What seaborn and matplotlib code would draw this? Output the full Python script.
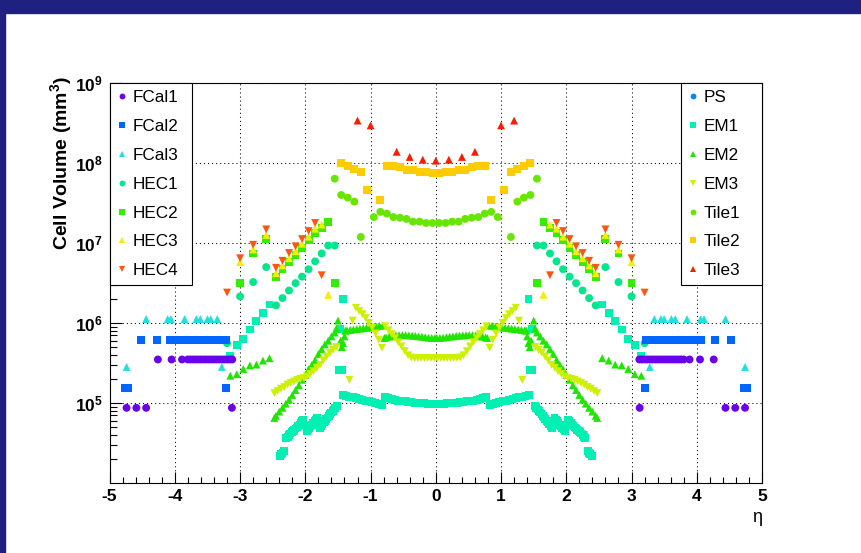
import numpy as np
import pandas as pd
import matplotlib
matplotlib.use('Agg')
import matplotlib.pyplot as plt
import matplotlib.ticker as mt
from matplotlib.lines import Line2D
from matplotlib.patches import Rectangle
import seaborn as sns

#%% data: cell volume (mm^3) vs eta, positive-eta half (detector is symmetric in eta)

fcal1_eta = [3.12, 3.16, 3.20, 3.24, 3.28, 3.32, 3.36, 3.40, 3.44, 3.48, 3.52, 3.56,
             3.60, 3.64, 3.68, 3.72, 3.76, 3.80, 3.89, 4.05, 4.26,
             3.125, 4.44, 4.59, 4.74]
fcal1_vol = [3.5e5]*21 + [8.7e4]*4

fcal2_eta = [3.22, 3.26, 3.30, 3.34, 3.38, 3.42, 3.46, 3.50, 3.54, 3.58, 3.62, 3.66,
             3.70, 3.74, 3.80, 3.85, 3.90, 3.96, 4.02, 4.07, 4.28, 4.52,
             3.21, 4.72, 4.77]
fcal2_vol = [6.2e5]*22 + [1.55e5]*3

fcal3_eta = [3.35, 3.45, 3.50, 3.61, 3.67, 3.85, 4.06, 4.11, 4.44, 3.28, 4.74]
fcal3_vol = [1.12e6]*9 + [2.82e5]*2

hec1_eta = [1.55, 1.65, 1.75, 1.85, 1.95, 2.05, 2.15, 2.25, 2.35, 2.45, 2.6, 2.8, 3.0, 3.2]
hec1_vol = [9.3e6, 9.3e6, 7.4e6, 5.9e6, 4.7e6, 3.8e6, 3.15e6, 2.55e6, 2.05e6, 1.66e6,
            5.0e6, 3.25e6, 2.15e6, 5.6e5]

hec2_eta = [1.55, 1.65, 1.75, 1.85, 1.95, 2.05, 2.15, 2.25, 2.35, 2.45, 2.6, 2.8, 3.0]
hec2_vol = [3.15e6, 1.81e7, 1.55e7, 1.33e7, 1.10e7, 8.7e6, 7.1e6, 5.75e6, 4.7e6, 3.75e6,
            1.12e7, 7.4e6, 3.15e6]

hec3_eta = [1.65, 1.75, 1.85, 1.95, 2.05, 2.15, 2.25, 2.35, 2.45, 2.6, 2.8, 3.0]
hec3_vol = [2.25e6, 1.70e7, 1.51e7, 1.20e7, 9.8e6, 7.9e6, 6.45e6, 5.25e6, 4.2e6,
            1.26e7, 8.3e6, 5.75e6]

hec4_eta = [1.75, 1.85, 1.95, 2.05, 2.15, 2.25, 2.35, 2.45, 2.6, 2.8, 3.0, 3.2]
hec4_vol = [3.95e6, 1.78e7, 1.41e7, 1.12e7, 9.1e6, 7.5e6, 6.0e6, 4.9e6,
            1.48e7, 9.5e6, 6.45e6, 2.4e6]

ps_eta = []
ps_vol = []

em1_eta = [0.025, 0.075, 0.125, 0.175, 0.225, 0.275, 0.325, 0.375, 0.425, 0.475,
           0.525, 0.575, 0.625, 0.675, 0.725, 0.775,
           0.825, 0.875, 0.925, 0.975, 1.025, 1.075, 1.125, 1.175, 1.225, 1.275,
           1.325, 1.375, 1.425,
           1.42, 1.47, 1.44, 1.48,
           1.52, 1.54, 1.56, 1.58, 1.60, 1.62, 1.64, 1.66, 1.68, 1.70, 1.72, 1.74, 1.76, 1.78,
           1.82, 1.84, 1.86, 1.88, 1.90, 1.92, 1.94, 1.96, 1.98,
           2.03, 2.05, 2.07, 2.09, 2.11, 2.13, 2.15, 2.17, 2.19, 2.21, 2.23, 2.25, 2.27, 2.29,
           2.33, 2.35, 2.37, 2.39,
           2.55, 2.65, 2.75, 2.85, 2.95, 3.05, 3.15]
em1_vol = [9.8e4, 9.8e4, 9.8e4, 9.9e4, 1.0e5, 1.0e5, 1.01e5, 1.02e5, 1.035e5, 1.047e5,
           1.06e5, 1.07e5, 1.095e5, 1.12e5, 1.15e5, 1.175e5,
           9.45e4, 9.65e4, 9.9e4, 1.02e5, 1.047e5, 1.07e5, 1.095e5, 1.12e5, 1.15e5, 1.175e5,
           1.2e5, 1.23e5, 1.245e5,
           2.0e6, 8.5e5, 2.57e5, 2.57e5,
           9.1e4, 8.7e4, 8.3e4, 7.9e4, 7.6e4, 7.2e4, 6.9e4, 6.6e4, 6.3e4, 6.0e4, 5.7e4, 5.4e4,
           5.2e4, 4.9e4,
           6.45e4, 6.15e4, 5.9e4, 5.6e4, 5.35e4, 5.1e4, 4.9e4, 4.7e4, 4.45e4,
           6.15e4, 5.9e4, 5.6e4, 5.35e4, 5.1e4, 4.95e4, 4.8e4, 4.6e4, 4.45e4, 4.3e4, 4.15e4,
           4.0e4, 3.8e4, 3.65e4,
           2.5e4, 2.4e4, 2.3e4, 2.2e4,
           1.70e6, 1.33e6, 1.07e6, 8.3e5, 6.3e5, 5.25e5, 3.9e5]

em2_eta = [0.0125, 0.0625, 0.1125, 0.1625, 0.2125, 0.2625, 0.3125, 0.3625, 0.4125, 0.4625,
           0.5125, 0.5625, 0.6125, 0.6625, 0.7125, 0.7625, 0.7875,
           0.8125, 0.8625, 0.9125, 0.9625, 1.0125, 1.0625, 1.1125, 1.1625, 1.2125, 1.2625,
           1.3125, 1.3625, 1.3875,
           1.40, 1.42, 1.44, 1.46,
           1.50, 1.525, 1.55, 1.60, 1.65, 1.70, 1.75, 1.80, 1.85, 1.90, 1.95, 2.00,
           2.05, 2.10, 2.15, 2.20, 2.25, 2.30, 2.35, 2.40, 2.45, 2.475,
           2.55, 2.65, 2.75, 2.85, 2.95, 3.05, 3.15]
em2_vol = [6.5e5, 6.5e5, 6.55e5, 6.65e5, 6.75e5, 6.8e5, 6.9e5, 6.95e5, 7.0e5, 7.05e5,
           7.05e5, 7.05e5, 7.0e5, 6.9e5, 6.75e5, 6.6e5, 6.5e5,
           9.3e5, 9.2e5, 9.0e5, 8.9e5, 8.8e5, 8.7e5, 8.6e5, 8.5e5, 8.4e5, 8.3e5,
           8.2e5, 8.1e5, 8.0e5,
           6.8e5, 5.6e5, 5.0e5, 6.0e5,
           1.07e6, 8.5e5, 7.6e5, 6.8e5, 6.0e5, 5.4e5, 4.7e5, 4.1e5, 3.45e5, 3.0e5, 2.65e5,
           2.25e5, 1.95e5, 1.66e5, 1.45e5, 1.26e5, 1.1e5, 9.8e4, 8.7e4, 7.8e4, 6.9e4, 6.5e4,
           3.63e5, 3.39e5, 3.02e5, 2.95e5, 2.66e5, 2.29e5, 2.19e5]

em3_eta = [0.025, 0.075, 0.125, 0.175, 0.225, 0.275, 0.325, 0.375, 0.425, 0.475,
           0.525, 0.575, 0.625, 0.675, 0.725, 0.775,
           0.825, 0.875, 0.925, 0.975, 1.025, 1.075, 1.125, 1.175, 1.225, 1.275, 1.325,
           1.525, 1.575, 1.625, 1.675, 1.725, 1.775, 1.825, 1.875, 1.925, 1.975,
           2.025, 2.075, 2.125, 2.175, 2.225, 2.275, 2.325, 2.375, 2.425, 2.475]
em3_vol = [3.65e5, 3.65e5, 3.65e5, 3.65e5, 3.65e5, 3.65e5, 3.65e5, 3.7e5, 3.95e5, 4.45e5,
           5.1e5, 5.75e5, 6.45e5, 7.25e5, 8.1e5, 9.1e5,
           4.9e5, 6.2e5, 7.4e5, 8.7e5, 1.0e6, 1.15e6, 1.29e6, 1.41e6, 1.55e6, 1.07e6, 1.95e5,
           5.0e5, 4.6e5, 4.25e5, 3.8e5, 3.4e5, 3.0e5, 2.75e5, 2.5e5, 2.3e5, 2.15e5,
           2.05e5, 2.0e5, 1.95e5, 1.86e5, 1.78e5, 1.7e5, 1.58e5, 1.51e5, 1.41e5, 1.33e5]

tile1_eta = [0.05, 0.15, 0.25, 0.35, 0.45, 0.55, 0.65, 0.75, 0.85, 0.95,
             1.15, 1.25, 1.35, 1.45, 1.55]
tile1_vol = [1.78e7, 1.78e7, 1.85e7, 1.85e7, 2.0e7, 2.07e7, 2.11e7, 2.33e7, 2.45e7, 2.11e7,
             1.19e7, 3.29e7, 3.69e7, 3.98e7, 6.37e7]

tile2_eta = [0.05, 0.15, 0.25, 0.35, 0.45, 0.55, 0.65, 0.75, 0.85,
             1.05, 1.15, 1.25, 1.35, 1.45]
tile2_vol = [7.5e7, 7.76e7, 7.76e7, 8.13e7, 8.13e7, 8.81e7, 9.27e7, 9.27e7, 3.47e7,
             4.57e7, 7.76e7, 8.41e7, 9.12e7, 1.0e8]

tile3_eta = [0.0, 0.2, 0.4, 0.6, 1.0, 1.2]
tile3_vol = [1.07e8, 1.10e8, 1.19e8, 1.38e8, 2.95e8, 3.39e8]

left_names = ['FCal1', 'FCal2', 'FCal3', 'HEC1', 'HEC2', 'HEC3', 'HEC4']
right_names = ['PS', 'EM1', 'EM2', 'EM3', 'Tile1', 'Tile2', 'Tile3']

colors = {'FCal1': '#6a00ec', 'FCal2': '#0066ff', 'FCal3': '#1ee0e0',
          'HEC1': '#00e68a', 'HEC2': '#33ee00', 'HEC3': '#f0f000', 'HEC4': '#ff5511',
          'PS': '#0088ff', 'EM1': '#00f0b4', 'EM2': '#1ee600', 'EM3': '#ccf000',
          'Tile1': '#66e600', 'Tile2': '#ffcc00', 'Tile3': '#ff1a00'}
markers = {'FCal1': 'o', 'FCal2': 's', 'FCal3': '^', 'HEC1': 'o', 'HEC2': 's',
           'HEC3': '^', 'HEC4': 'v', 'PS': 'o', 'EM1': 's', 'EM2': '^', 'EM3': 'v',
           'Tile1': 'o', 'Tile2': 's', 'Tile3': '^'}

series = {'PS': (ps_eta, ps_vol), 'EM1': (em1_eta, em1_vol), 'EM2': (em2_eta, em2_vol),
          'EM3': (em3_eta, em3_vol), 'Tile1': (tile1_eta, tile1_vol),
          'Tile2': (tile2_eta, tile2_vol), 'Tile3': (tile3_eta, tile3_vol),
          'HEC1': (hec1_eta, hec1_vol), 'HEC2': (hec2_eta, hec2_vol),
          'HEC3': (hec3_eta, hec3_vol), 'HEC4': (hec4_eta, hec4_vol),
          'FCal1': (fcal1_eta, fcal1_vol), 'FCal2': (fcal2_eta, fcal2_vol),
          'FCal3': (fcal3_eta, fcal3_vol)}


def mirror(eta, vol):
    eta = np.asarray(eta, float)
    vol = np.asarray(vol, float)
    pos = eta > 0
    return (np.concatenate([-eta[pos][::-1], eta]),
            np.concatenate([vol[pos][::-1], vol]))


frames = []
for name, (e, v) in series.items():
    if len(e) == 0:
        continue
    x, y = mirror(e, v)
    frames.append(pd.DataFrame({'eta': x, 'vol': y, 'layer': name}))
df = pd.concat(frames, ignore_index=True)

#%% figure
plt.rcParams['font.family'] = ['Liberation Sans', 'DejaVu Sans']
plt.rcParams['mathtext.fontset'] = 'custom'
plt.rcParams['mathtext.rm'] = 'Liberation Sans'
plt.rcParams['mathtext.bf'] = 'Liberation Sans:bold'

fig = plt.figure(figsize=(8.61, 5.53), dpi=100)
fig.patches.append(Rectangle((0, 1 - 13/553), 1, 13/553, transform=fig.transFigure,
                             color='#1f2080', zorder=0))
fig.patches.append(Rectangle((0, 0), 5/861, 1, transform=fig.transFigure,
                             color='#1f2080', zorder=0))
ax = fig.add_axes([109.6/861, 70/553, 652.4/861, 400/553])

present = [n for n in series if n in df.layer.unique()]
sns.scatterplot(data=df, x='eta', y='vol', hue='layer', style='layer',
                hue_order=present, style_order=present,
                palette=colors, markers=markers, s=32, linewidth=0,
                legend=False, ax=ax, zorder=3)

ax.set_yscale('log')
ax.set_xlim(-5, 5)
ax.set_ylim(1e4, 1e9)
ax.set_xlabel('')
ax.set_ylabel('')

ax.xaxis.set_major_locator(mt.MultipleLocator(1))
ax.xaxis.set_minor_locator(mt.MultipleLocator(0.2))
ax.xaxis.set_major_formatter(mt.FuncFormatter(lambda v, p: '%d' % round(v)))
ax.yaxis.set_major_locator(mt.FixedLocator([1e5, 1e6, 1e7, 1e8, 1e9]))
ax.yaxis.set_major_formatter(mt.FixedFormatter([r'$\mathbf{10^{5}}$', r'$\mathbf{10^{6}}$',
                                                r'$\mathbf{10^{7}}$', r'$\mathbf{10^{8}}$',
                                                r'$\mathbf{10^{9}}$']))
ax.yaxis.set_minor_locator(mt.LogLocator(base=10, subs=np.arange(2, 10), numticks=20))
ax.yaxis.set_minor_formatter(mt.NullFormatter())

ax.tick_params(which='both', direction='in', top=False, right=False, color='k', width=0.8)
ax.tick_params(axis='x', which='major', length=8, pad=4, labelsize=12.5)
ax.tick_params(axis='x', which='minor', length=4)
ax.tick_params(axis='y', which='major', length=8.5, pad=5, labelsize=12.5)
ax.tick_params(axis='y', which='minor', length=5)
for lab in ax.get_xticklabels():
    lab.set_fontweight('bold')

ax.grid(True, which='major', color='k', linestyle=(0, (1, 2.9)), linewidth=0.75)
ax.set_axisbelow(True)
for sp in ax.spines.values():
    sp.set_linewidth(0.8)

# legends
def make_legend(names, x0, w):
    handles = [Line2D([], [], ls='none', marker=markers[n], color=colors[n],
                      markersize=4.2, markeredgewidth=0) for n in names]
    leg = ax.legend(handles, names, loc='upper left', bbox_to_anchor=(x0, 1.0, w, 0),
                    mode='expand', borderaxespad=0, borderpad=0.42, labelspacing=0.81,
                    handlelength=0.65, handletextpad=0.25, fontsize=12.3,
                    fancybox=False, framealpha=1, edgecolor='k')
    leg.get_frame().set_linewidth(0.8)
    return leg

leg1 = make_legend(left_names, 0.0, 82.4/652.4)
ax.add_artist(leg1)
leg2 = make_legend(right_names, 571.1/652.4, 81.3/652.4)

fig.text(62/861, 1 - 76/553, r'Cell Volume (mm$^{\mathbf{3}}$)', rotation=90,
         ha='center', va='top', fontsize=14, fontweight='bold')
fig.text(757/861, 1 - 517/553, 'η', ha='center', va='center', fontsize=13)

fig.savefig('out.png', dpi=100, facecolor='w')
